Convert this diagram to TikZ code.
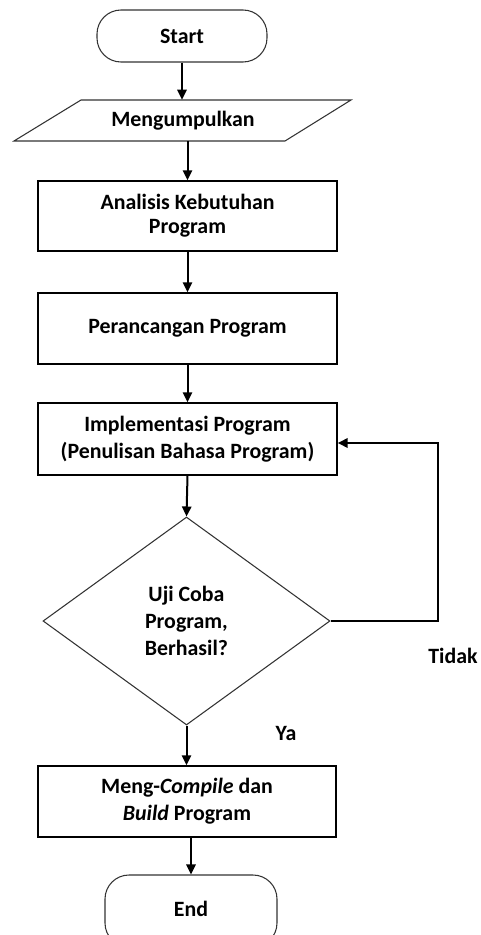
\documentclass[tikz,border=0pt]{standalone}
\usepackage{fontspec}
\setmainfont{Carlito}
\usetikzlibrary{shapes.geometric,arrows.meta,calc}
\begin{document}
\begin{tikzpicture}[x=0.75pt,y=-0.75pt,
  txt/.style={font=\fontsize{16.4pt}{20pt}\selectfont\bfseries, align=center, text=black},
  procbox/.style={txt, draw=black, line width=1.1pt, rectangle, minimum width=224.25pt, minimum height=53.25pt, inner sep=0pt},
  term/.style={txt, draw=black!80, line width=0.8pt, rectangle, rounded corners=18pt, inner sep=0pt},
  arr/.style={line width=1.5pt, -{Triangle[length=7.5pt,width=7pt]}},
  fbline/.style={line width=2pt, -{Triangle[length=7.5pt,width=7pt]}}
]
\useasboundingbox (0,0) rectangle (480,935);

\node[term, minimum width=127.5pt, minimum height=39pt] (start) at (182,36) {Start};

\node[txt, inner sep=0pt, minimum height=30.75pt] (io) at (183,120.5) {Mengumpulkan};
\draw[draw=black!80, line width=0.8pt] (81,100) -- (351,100) -- (285,141) -- (14,141) -- cycle;

\node[procbox, minimum height=52.5pt, font=\fontsize{16.4pt}{18pt}\selectfont\bfseries] (an) at (187.5,216) {Analisis Kebutuhan\\Program};
\node[procbox] (pr) at (187.5,328.5) {Perancangan Program};
\node[procbox, minimum height=54pt] (im) at (187.5,439) {Implementasi Program\\(Penulisan Bahasa Program)};
\node[txt, diamond, draw=black!80, line width=0.8pt, inner sep=0pt, minimum width=215.25pt, minimum height=156pt] (dec) at (186.5,621) {Uji Coba\\Program,\\Berhasil?};
\node[procbox, minimum width=223.5pt] (cb) at (187,801.5) {Meng-\textit{Compile} dan\\\textit{Build} Program};
\node[term, minimum width=129pt, minimum height=54pt] (end) at (191,911) {\raisebox{3pt}{End}};

\node[txt] (ya) at (286,733) {Ya};
\node[txt] (tidak) at (453,656) {Tidak};

\coordinate (fbtop) at (438,443);

\draw[arr] (start.south) -- (start.south |- io.north);
\draw[arr] (io.south -| an.north) -- (an.north);
\draw[arr] (an.south) -- (pr.north);
\draw[arr] (pr.south) -- (im.north);
\draw[arr] (im.south) -- (dec.north);
\draw[arr] (dec.south) -- (dec.south |- cb.north);
\draw[arr] (cb.south -| end.north) -- (end.north);
\draw[fbline] (dec.east) -| (fbtop) -- (fbtop -| im.east);
\end{tikzpicture}
\end{document}
